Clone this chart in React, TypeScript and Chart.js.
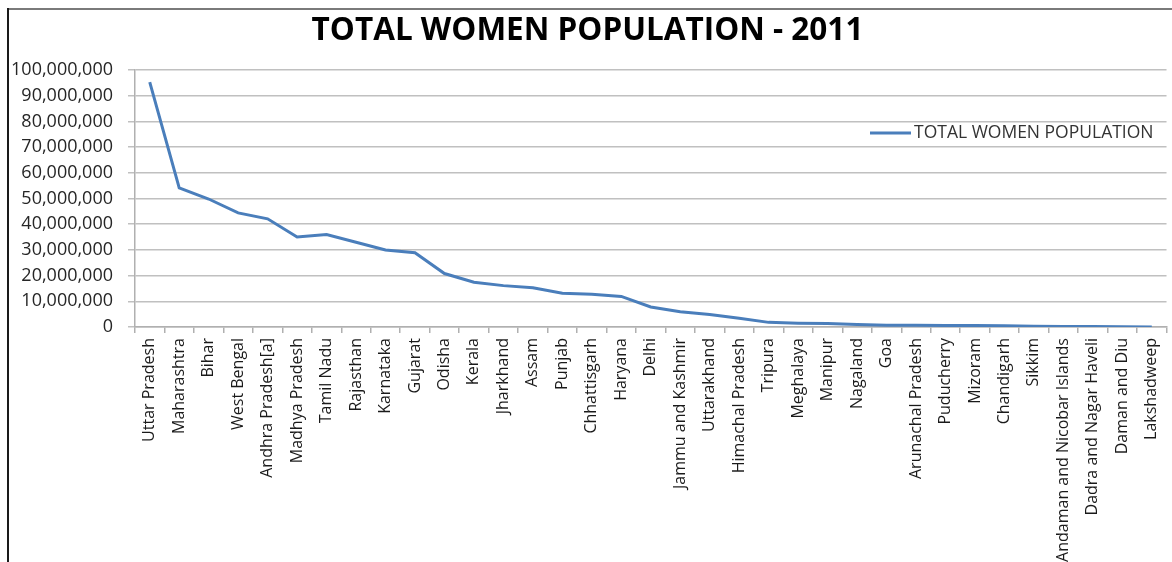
import React, { useEffect, useRef } from "react";
import { Chart, registerables } from "chart.js";

Chart.register(...registerables);

const TITLE = "TOTAL WOMEN POPULATION - 2011";
const SERIES_LABEL = "TOTAL WOMEN POPULATION";

const STATES: string[] = [
  "Uttar Pradesh", "Maharashtra", "Bihar", "West Bengal", "Andhra Pradesh[a]",
  "Madhya Pradesh", "Tamil Nadu", "Rajasthan", "Karnataka", "Gujarat",
  "Odisha", "Kerala", "Jharkhand", "Assam", "Punjab",
  "Chhattisgarh", "Haryana", "Delhi", "Jammu and Kashmir", "Uttarakhand",
  "Himachal Pradesh", "Tripura", "Meghalaya", "Manipur", "Nagaland",
  "Goa", "Arunachal Pradesh", "Puducherry", "Mizoram", "Chandigarh",
  "Sikkim", "Andaman and Nicobar Islands", "Dadra and Nagar Haveli", "Daman and Diu", "Lakshadweep",
];

const WOMEN_POPULATION: number[] = [
  95300000, 54100000, 49800000, 44400000, 42100000,
  35000000, 36000000, 33000000, 30000000, 28900000,
  20800000, 17400000, 16100000, 15300000, 13100000,
  12700000, 11900000, 7800000, 5900000, 4900000,
  3400000, 1800000, 1500000, 1400000, 950000,
  720000, 670000, 630000, 540000, 470000,
  290000, 180000, 150000, 90000, 30000,
];

const Y_MIN = 0;
const Y_MAX = 100000000;
const Y_STEP = 10000000;

const FONT = "'Open Sans', 'Noto Sans', sans-serif";

export default function App() {
  const ref = useRef<HTMLCanvasElement | null>(null);

  useEffect(() => {
    document.body.style.margin = "0";
    const canvas = ref.current;
    if (!canvas) return;

    const decor = {
      id: "decor",
      afterDraw(chart: any) {
        const ctx = chart.ctx;
        ctx.save();
        // frame
        ctx.strokeStyle = "#7a7a7a";
        ctx.lineWidth = 2;
        ctx.beginPath();
        ctx.moveTo(7, 9);
        ctx.lineTo(1180, 9);
        ctx.stroke();
        ctx.strokeStyle = "#1a1a1a";
        ctx.beginPath();
        ctx.moveTo(8, 8);
        ctx.lineTo(8, 562);
        ctx.stroke();
        // legend
        const ds = chart.data.datasets[0];
        ctx.strokeStyle = ds.borderColor;
        ctx.lineWidth = 3;
        ctx.beginPath();
        ctx.moveTo(870, 133);
        ctx.lineTo(911, 133);
        ctx.stroke();
        ctx.fillStyle = "#333333";
        ctx.font = `17.5px ${FONT}`;
        ctx.textBaseline = "middle";
        ctx.textAlign = "left";
        ctx.fillText(ds.label, 914, 133);
        ctx.restore();
      },
    };

    const chart = new Chart(canvas, {
      type: "line",
      data: {
        labels: STATES,
        datasets: [
          {
            label: SERIES_LABEL,
            data: WOMEN_POPULATION,
            borderColor: "#4a7ebb",
            backgroundColor: "#4a7ebb",
            borderWidth: 3,
            pointRadius: 0,
            tension: 0,
            fill: false,
          },
        ],
      },
      plugins: [decor],
      options: {
        responsive: false,
        animation: false,
        layout: { padding: { left: 0, right: 1, top: 0, bottom: 0 } },
        plugins: {
          legend: { display: false },
          tooltip: { enabled: false },
          title: {
            display: true,
            text: TITLE,
            color: "#000000",
            font: { family: FONT, size: 31.5, weight: "bold" },
            padding: { top: 12, bottom: 20.2 },
          },
        },
        scales: {
          x: {
            offset: true,
            grid: {
              offset: true,
              drawOnChartArea: false,
              drawTicks: true,
              tickLength: 6,
              color: "#b0b0b0",
              lineWidth: 1.5,
            },
            border: { display: true, color: "#b0b0b0", width: 1.5 },
            ticks: {
              autoSkip: false,
              maxRotation: 90,
              minRotation: 90,
              padding: 5,
              color: "#1a1a1a",
              font: { family: FONT, size: 16 },
            },
            afterFit(scale: any) {
              scale.height = 235;
            },
          },
          y: {
            min: Y_MIN,
            max: Y_MAX,
            grid: {
              color: "#c0c0c0",
              lineWidth: 1.5,
              tickLength: 7,
            },
            border: { display: true, color: "#b0b0b0", width: 1.5 },
            ticks: {
              stepSize: Y_STEP,
              padding: 15,
              color: "#262626",
              font: { family: FONT, size: 18 },
              callback: (v: any) => Number(v).toLocaleString("en-US"),
            },
            afterFit(scale: any) {
              scale.width = 135;
            },
          },
        },
      },
    });

    return () => {
      chart.destroy();
    };
  }, []);

  return (
    <div
      style={{
        position: "absolute",
        left: 0,
        top: 0,
        width: 1172,
        height: 562,
        overflow: "hidden",
        background: "#ffffff",
      }}
    >
      <canvas ref={ref} width={1176} height={562} style={{ display: "block" }} />
    </div>
  );
}
